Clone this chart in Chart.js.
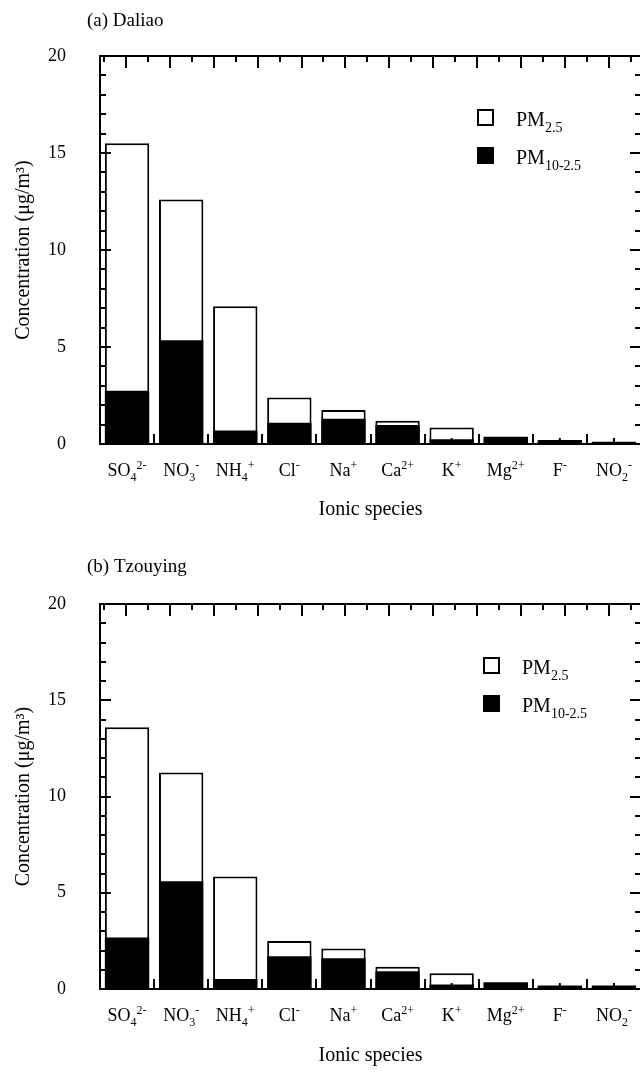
<!DOCTYPE html>
<html><head><meta charset="utf-8">
<script src="https://cdn.jsdelivr.net/npm/chart.js@4.4.1/dist/chart.umd.min.js"></script>
<style>
html,body{margin:0;padding:0;overflow:hidden;background:#fff;width:640px;height:1074px;}
.panel{position:absolute;left:0;width:644px;height:537px;}
canvas{display:block;}
</style></head><body>
<div class="panel" style="top:0"><canvas id="cA" width="644" height="537" style="width:644px;height:537px"></canvas></div>
<div class="panel" style="top:537px"><canvas id="cB" width="644" height="537" style="width:644px;height:537px"></canvas></div>
<script>
// ---- data ----
const categories = ['SO_4^2-', 'NO_3^-', 'NH_4^+', 'Cl^-', 'Na^+', 'Ca^2+', 'K^+', 'Mg^2+', 'F^-', 'NO_2^-'];
const daliaoPM25     = [15.5, 12.6, 7.1, 2.4, 1.75, 1.2, 0.85, 0.3, 0.15, 0.1];
const daliaoPMcoarse = [2.75, 5.35, 0.7, 1.1, 1.3, 0.98, 0.25, 0.38, 0.2, 0.12];
const tzouyingPM25     = [13.6, 11.25, 5.85, 2.5, 2.1, 1.15, 0.82, 0.3, 0.15, 0.15];
const tzouyingPMcoarse = [2.68, 5.6, 0.52, 1.7, 1.6, 0.92, 0.23, 0.35, 0.18, 0.18];
const seriesLabels = ['PM_2.5', 'PM_10-2.5'];
const yMax = 20, yMajor = 5, yMinor = 1;
const xTitle = 'Ionic species';
const yTitle = 'Concentration (\u03bcg/m\u00b3)';

const SERIF = '"Liberation Serif", "Times New Roman", serif';

function parseRich(s){
  const segs = []; let i = 0; let buf = '';
  while (i < s.length){
    const c = s[i];
    if (c === '_' || c === '^'){
      if (buf){ segs.push({t: buf, k: 'n'}); buf = ''; }
      i++; let d = '';
      const stop = c === '_' ? '^' : '_';
      while (i < s.length && s[i] !== stop){ d += s[i]; i++; }
      segs.push({t: d, k: c === '_' ? 'sub' : 'sup'});
    } else { buf += c; i++; }
  }
  if (buf) segs.push({t: buf, k: 'n'});
  return segs;
}
function drawRich(ctx, s, x, y, o){
  const segs = parseRich(s);
  const fN = o.size + 'px ' + SERIF, fS = o.small + 'px ' + SERIF;
  let w = 0;
  segs.forEach(g => { ctx.font = g.k === 'n' ? fN : fS; g.w = ctx.measureText(g.t).width; w += g.w; });
  let cx = o.align === 'center' ? x - w / 2 : x;
  ctx.textAlign = 'left'; ctx.textBaseline = 'alphabetic'; ctx.fillStyle = '#000';
  segs.forEach(g => {
    ctx.font = g.k === 'n' ? fN : fS;
    const dy = g.k === 'sub' ? o.subDy : g.k === 'sup' ? o.supDy : 0;
    ctx.fillText(g.t, cx, y + dy);
    cx += g.w;
  });
}

const deco = {
  id: 'deco',
  afterDraw(chart, args, o){
    const {ctx, chartArea: a, scales: {x, y}} = chart;
    ctx.save();
    ctx.strokeStyle = '#000'; ctx.lineWidth = 2; ctx.lineCap = 'butt';
    // frame
    ctx.beginPath();
    ctx.moveTo(a.left, a.top); ctx.lineTo(a.right, a.top); ctx.lineTo(a.right, a.bottom); ctx.lineTo(a.left, a.bottom); ctx.closePath();
    ctx.stroke();
    // y minor/major ticks both sides (inward)
    ctx.beginPath();
    for (let v = 0; v <= yMax; v += yMinor){
      const py = Math.round(y.getPixelForValue(v));
      const L = v % yMajor === 0 ? 11 : 6;
      ctx.moveTo(a.left, py); ctx.lineTo(a.left + L, py);
      ctx.moveTo(a.right, py); ctx.lineTo(a.right - L, py);
    }
    // bottom ticks: category boundaries (long) and centers (short)
    const n = categories.length;
    for (let i = 0; i < n; i++){
      const c = x.getPixelForValue(i);
      ctx.moveTo(c, a.bottom); ctx.lineTo(c, a.bottom - 6);
      if (i > 0){
        const b = Math.round((x.getPixelForValue(i - 1) + c) / 2);
        ctx.moveTo(b, a.bottom); ctx.lineTo(b, a.bottom - 10);
      }
    }
    // top ticks
    let k = 0;
    for (let px = a.left + 4; px < a.right; px += 21.95, k++){
      const L = k % 2 === 1 ? 12 : 6;
      ctx.moveTo(Math.round(px), a.top); ctx.lineTo(Math.round(px), a.top + L);
    }
    ctx.stroke();
    // x tick labels
    categories.forEach((c, i) => {
      drawRich(ctx, c, x.getPixelForValue(i), a.bottom + 32, {size: 18, small: 12, subDy: 5, supDy: -7, align: 'center'});
    });
    // panel label
    ctx.font = '19px ' + SERIF; ctx.fillStyle = '#000'; ctx.textAlign = 'left'; ctx.textBaseline = 'alphabetic';
    ctx.fillText(o.label, 87, o.labelY);
    // legend
    const ly = a.top + 53;
    ctx.lineWidth = 2;
    ctx.fillStyle = '#fff';
    ctx.fillRect(o.legendX + 1, ly + 1, 15, 15);
    ctx.strokeRect(o.legendX + 1, ly + 1, 15, 15);
    ctx.fillStyle = '#000';
    ctx.fillRect(o.legendX, ly + 38, 17, 17);
    drawRich(ctx, seriesLabels[0], o.legendX + 39, ly + 17, {size: 20, small: 14, subDy: 6, supDy: -7, align: 'left'});
    drawRich(ctx, seriesLabels[1], o.legendX + 39, ly + 55, {size: 20, small: 14, subDy: 6, supDy: -7, align: 'left'});
    ctx.restore();
  }
};

function makeChart(id, fine, coarse, opt){
  return new Chart(document.getElementById(id), {
    type: 'bar',
    data: {
      labels: categories,
      datasets: [
        {label: 'PM2.5', data: fine, backgroundColor: '#fff', borderColor: '#000', borderWidth: 2,
         borderSkipped: false, grouped: false, order: 2, barPercentage: 0.82, categoryPercentage: 1},
        {label: 'PM10-2.5', data: coarse, backgroundColor: '#000', borderColor: '#000', borderWidth: 0,
         grouped: false, order: 1, barPercentage: 0.82, categoryPercentage: 1}
      ]
    },
    options: {
      responsive: false, animation: false, devicePixelRatio: 1,
      layout: {padding: {top: opt.top, right: 3, left: 0, bottom: 0}},
      plugins: {legend: {display: false}, tooltip: {enabled: false},
        deco: {label: opt.label, labelY: opt.labelY, legendX: opt.legendX}},
      scales: {
        x: {
          type: 'category', offset: true,
          grid: {display: false, drawTicks: false}, border: {display: false},
          ticks: {display: false},
          title: {display: true, text: xTitle, color: '#000', font: {family: SERIF, size: 20}, padding: {top: 0, bottom: opt.xTitlePad}},
          afterFit(s){ s.height = opt.xH; }
        },
        y: {
          min: 0, max: yMax,
          grid: {display: false, drawTicks: false}, border: {display: false},
          ticks: {stepSize: yMajor, color: '#000', font: {family: SERIF, size: 18}, padding: 34},
          title: {display: true, text: yTitle, color: '#000', font: {family: SERIF, size: 20}, padding: {top: 12, bottom: 0}},
          afterFit(s){ s.width = 100; }
        }
      }
    },
    plugins: [deco]
  });
}

makeChart('cA', daliaoPM25, daliaoPMcoarse, {top: 56, xH: 93, xTitlePad: 15, label: '(a) Daliao', labelY: 26, legendX: 477});
makeChart('cB', tzouyingPM25, tzouyingPMcoarse, {top: 67, xH: 85, xTitlePad: 6, label: '(b) Tzouying', labelY: 35, legendX: 483});
</script>
</body></html>
